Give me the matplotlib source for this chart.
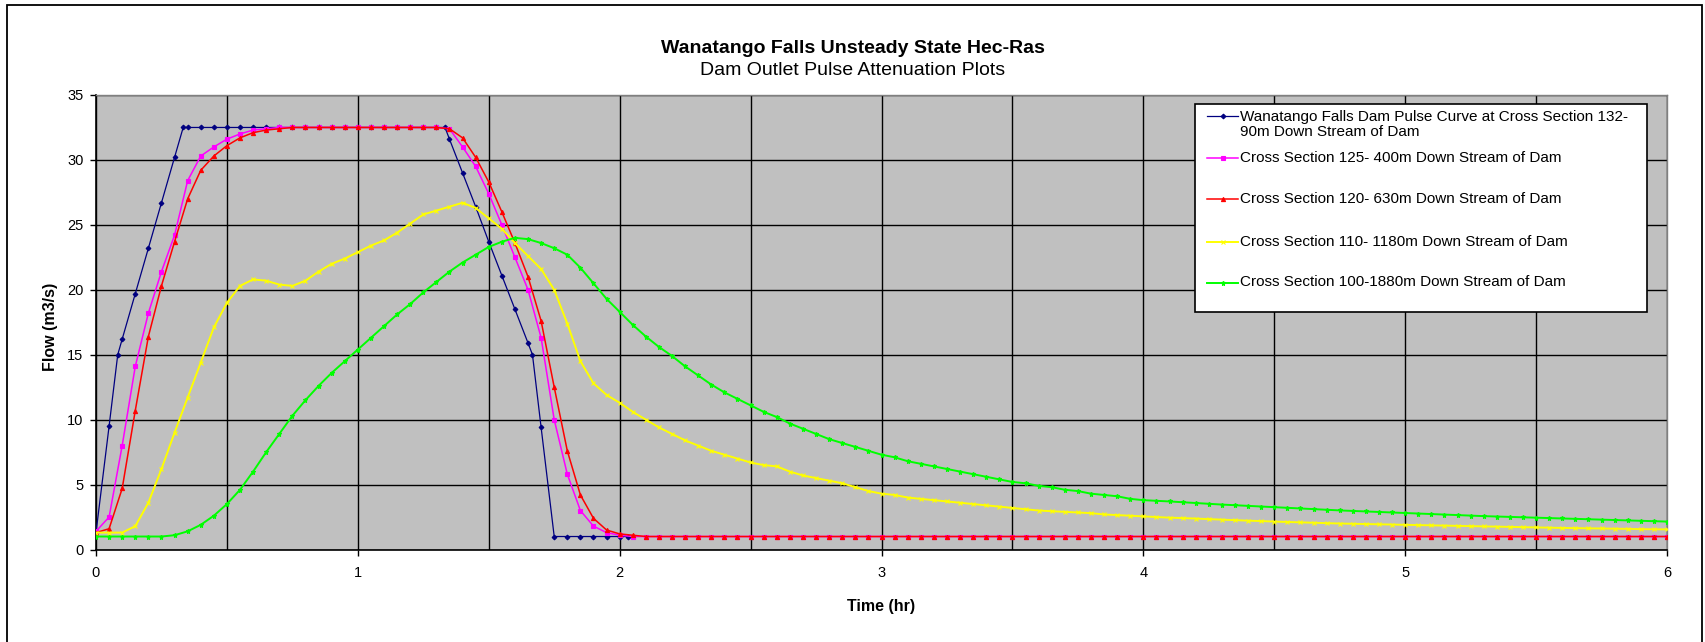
import numpy as np
import matplotlib
matplotlib.use("Agg")
import matplotlib.pyplot as plt
from matplotlib.patches import Rectangle
from matplotlib.lines import Line2D
from matplotlib.ticker import MultipleLocator

plt.rcParams['font.family'] = ['Liberation Sans', 'DejaVu Sans']

# --- data (time in hr, flow in m3/s) ---
# common time grid, one reading every 0.05 hr
t = np.round(np.arange(0, 121) * 0.05, 2)

# upstream pulse has its own kinks, so its own time list
t_blue = [0.0, 0.05, 0.083, 0.1, 0.15, 0.2, 0.25, 0.3, 0.333, 0.35,
          0.4, 0.45, 0.5, 0.55, 0.6, 0.65, 0.7, 0.75, 0.8, 0.85,
          0.9, 0.95, 1.0, 1.05, 1.1, 1.15, 1.2, 1.25, 1.3, 1.333,
          1.35, 1.4, 1.45, 1.5, 1.55, 1.6, 1.65, 1.667, 1.7, 1.75,
          1.8, 1.85, 1.9, 1.95, 2.0, 2.033]
q_blue = [1.3, 9.5, 15.0, 16.2, 19.7, 23.2, 26.7, 30.2, 32.5, 32.5,
          32.5, 32.5, 32.5, 32.5, 32.5, 32.5, 32.5, 32.5, 32.5, 32.5,
          32.5, 32.5, 32.5, 32.5, 32.5, 32.5, 32.5, 32.5, 32.5, 32.5,
          31.6, 29.0, 26.4, 23.7, 21.1, 18.5, 15.9, 15.0, 9.4, 1.0,
          1.0, 1.0, 1.0, 1.0, 1.0, 1.0]

q_magenta = [1.4, 2.5, 8.0, 14.1, 18.2, 21.4, 24.2, 28.4, 30.3, 31.0,
             31.6, 32.0, 32.3, 32.4, 32.5, 32.5, 32.5, 32.5, 32.5, 32.5,
             32.5, 32.5, 32.5, 32.5, 32.5, 32.5, 32.5, 32.4, 31.0, 29.5,
             27.4, 25.0, 22.5, 20.0, 16.3, 10.0, 5.8, 3.0, 1.8, 1.3,
             1.1, 1.0, 1.0, 1.0, 1.0, 1.0, 1.0, 1.0, 1.0, 1.0,
             1.0, 1.0, 1.0, 1.0, 1.0, 1.0, 1.0, 1.0, 1.0, 1.0,
             1.0, 1.0, 1.0, 1.0, 1.0, 1.0, 1.0, 1.0, 1.0, 1.0,
             1.0, 1.0, 1.0, 1.0, 1.0, 1.0, 1.0, 1.0, 1.0, 1.0,
             1.0, 1.0, 1.0, 1.0, 1.0, 1.0, 1.0, 1.0, 1.0, 1.0,
             1.0, 1.0, 1.0, 1.0, 1.0, 1.0, 1.0, 1.0, 1.0, 1.0,
             1.0, 1.0, 1.0, 1.0, 1.0, 1.0, 1.0, 1.0, 1.0, 1.0,
             1.0, 1.0, 1.0, 1.0, 1.0, 1.0, 1.0, 1.0, 1.0, 1.0,
             1.0]

q_red = [1.3, 1.6, 4.7, 10.7, 16.4, 20.3, 23.7, 27.0, 29.2, 30.3,
         31.1, 31.7, 32.1, 32.3, 32.4, 32.5, 32.5, 32.5, 32.5, 32.5,
         32.5, 32.5, 32.5, 32.5, 32.5, 32.5, 32.5, 32.4, 31.7, 30.2,
         28.3, 26.0, 23.6, 21.0, 17.6, 12.5, 7.6, 4.2, 2.4, 1.5,
         1.2, 1.1, 1.0, 1.0, 1.0, 1.0, 1.0, 1.0, 1.0, 1.0,
         1.0, 1.0, 1.0, 1.0, 1.0, 1.0, 1.0, 1.0, 1.0, 1.0,
         1.0, 1.0, 1.0, 1.0, 1.0, 1.0, 1.0, 1.0, 1.0, 1.0,
         1.0, 1.0, 1.0, 1.0, 1.0, 1.0, 1.0, 1.0, 1.0, 1.0,
         1.0, 1.0, 1.0, 1.0, 1.0, 1.0, 1.0, 1.0, 1.0, 1.0,
         1.0, 1.0, 1.0, 1.0, 1.0, 1.0, 1.0, 1.0, 1.0, 1.0,
         1.0, 1.0, 1.0, 1.0, 1.0, 1.0, 1.0, 1.0, 1.0, 1.0,
         1.0, 1.0, 1.0, 1.0, 1.0, 1.0, 1.0, 1.0, 1.0, 1.0,
         1.0]

q_yellow = [1.3, 1.3, 1.3, 1.8, 3.6, 6.2, 9.0, 11.7, 14.4, 17.1,
            19.0, 20.3, 20.8, 20.7, 20.4, 20.3, 20.7, 21.4, 22.0, 22.4,
            22.9, 23.4, 23.8, 24.4, 25.1, 25.8, 26.1, 26.4, 26.7, 26.3,
            25.5, 24.7, 23.6, 22.6, 21.6, 20.0, 17.4, 14.5, 12.8, 11.9,
            11.3, 10.6, 10.0, 9.4, 8.9, 8.4, 8.0, 7.6, 7.3, 7.0,
            6.7, 6.5, 6.4, 6.0, 5.7, 5.5, 5.3, 5.1, 4.8, 4.5,
            4.3, 4.2, 4.0, 3.9, 3.8, 3.7, 3.6, 3.5, 3.4, 3.3,
            3.2, 3.1, 3.0, 2.95, 2.9, 2.85, 2.8, 2.7, 2.65, 2.6,
            2.55, 2.5, 2.45, 2.42, 2.38, 2.34, 2.3, 2.26, 2.22, 2.19,
            2.15, 2.12, 2.09, 2.06, 2.03, 2.0, 1.98, 1.96, 1.94, 1.92,
            1.9, 1.88, 1.86, 1.84, 1.82, 1.8, 1.78, 1.76, 1.74, 1.72,
            1.7, 1.68, 1.66, 1.65, 1.63, 1.62, 1.6, 1.59, 1.57, 1.56,
            1.55]

q_green = [1.0, 1.0, 1.0, 1.0, 1.0, 1.0, 1.1, 1.4, 1.9, 2.6,
           3.5, 4.6, 6.0, 7.5, 8.9, 10.3, 11.5, 12.6, 13.6, 14.5,
           15.4, 16.3, 17.2, 18.1, 18.9, 19.8, 20.6, 21.4, 22.1, 22.7,
           23.3, 23.7, 24.0, 23.9, 23.6, 23.2, 22.7, 21.7, 20.5, 19.3,
           18.3, 17.3, 16.4, 15.6, 14.9, 14.1, 13.4, 12.7, 12.1, 11.6,
           11.1, 10.6, 10.2, 9.7, 9.3, 8.9, 8.5, 8.2, 7.9, 7.6,
           7.3, 7.1, 6.8, 6.6, 6.4, 6.2, 6.0, 5.8, 5.6, 5.4,
           5.2, 5.1, 4.9, 4.8, 4.6, 4.5, 4.3, 4.2, 4.1, 3.9,
           3.8, 3.75, 3.7, 3.64, 3.58, 3.52, 3.46, 3.41, 3.36, 3.31,
           3.26, 3.21, 3.16, 3.11, 3.06, 3.01, 2.97, 2.93, 2.89, 2.85,
           2.81, 2.77, 2.73, 2.69, 2.65, 2.61, 2.57, 2.54, 2.51, 2.48,
           2.45, 2.42, 2.39, 2.36, 2.33, 2.3, 2.27, 2.24, 2.21, 2.18,
           2.15]

labels = ["Wanatango Falls Dam Pulse Curve at Cross Section 132-\n90m Down Stream of Dam",
          "Cross Section 125- 400m Down Stream of Dam",
          "Cross Section 120- 630m Down Stream of Dam",
          "Cross Section 110- 1180m Down Stream of Dam",
          "Cross Section 100-1880m Down Stream of Dam"]
colors = ['#000080', '#FF00FF', '#FF0000', '#FFFF00', '#00FF00']
markers = ['D', 's', '^', 'x', '*']
msizes = [2.4, 3.0, 3.0, 3.0, 3.6]
widths = [0.9, 1.1, 1.1, 1.4, 1.4]

# --- layout in pixels of the 1705x642 picture ---
W, H = 1705, 642
def fx(px):
    return px / W
def fy(py):
    return 1 - py / H

fig = plt.figure(figsize=(W / 100, H / 100), dpi=100)
fig.patch.set_facecolor('white')

ax = fig.add_axes([fx(96), fy(549.5), fx(1667) - fx(96), fy(95) - fy(549.5)])
ax.set_facecolor('#C0C0C0')

xs = [t_blue, t, t, t, t]
ys = [q_blue, q_magenta, q_red, q_yellow, q_green]
for i in range(5):
    ax.plot(xs[i], ys[i], color=colors[i], lw=widths[i], marker=markers[i],
            ms=msizes[i], mew=0.8, mec=colors[i], mfc=colors[i], zorder=3 + i)

ax.set_xlim(0, 6)
ax.set_ylim(0, 35)
ax.xaxis.set_major_locator(MultipleLocator(1))
ax.xaxis.set_minor_locator(MultipleLocator(0.5))
ax.yaxis.set_major_locator(MultipleLocator(5))
ax.grid(True, which='major', color='black', lw=1.0)
ax.xaxis.grid(True, which='minor', color='black', lw=1.0)
ax.set_axisbelow(True)
ax.tick_params(which='major', direction='out', length=4, width=1, labelsize=10.5, colors='black')
ax.tick_params(axis='x', pad=8)
ax.tick_params(axis='y', pad=5)
ax.tick_params(which='minor', length=0)

for s in ['top', 'right']:
    ax.spines[s].set_color('#808080')
    ax.spines[s].set_linewidth(1.0)
for s in ['left', 'bottom']:
    ax.spines[s].set_color('black')
    ax.spines[s].set_linewidth(1.2)

ax.set_xlabel("Time (hr)", fontsize=11.5, fontweight='bold')
ax.set_ylabel("Flow (m3/s)", fontsize=11.5, fontweight='bold')
ax.xaxis.set_label_coords(0.5, -0.108)
ax.yaxis.set_label_coords(-0.024, 0.49)

fig.text(0.5, fy(48.5), "Wanatango Falls Unsteady State Hec-Ras", ha='center', va='center',
         fontsize=14, fontweight='bold')
fig.text(0.5, fy(70.5), "Dam Outlet Pulse Attenuation Plots", ha='center', va='center', fontsize=14)

# legend box drawn by hand to keep Excel's spacing
fig.add_artist(Rectangle((fx(1195), fy(312)), fx(1647) - fx(1195), fy(104) - fy(312),
                         transform=fig.transFigure, facecolor='white', edgecolor='black',
                         lw=1.2, zorder=10))
entry_y = [116, 158, 199, 241.5, 282.5]
for i in range(5):
    fig.add_artist(Line2D([fx(1207), fx(1238)], [fy(entry_y[i]), fy(entry_y[i])],
                          transform=fig.transFigure, color=colors[i], lw=widths[i],
                          zorder=11))
    fig.add_artist(Line2D([fx(1222.5)], [fy(entry_y[i])], transform=fig.transFigure,
                          color=colors[i], marker=markers[i], ms=msizes[i], mew=0.8,
                          zorder=12))
    ty = entry_y[i] + 8.5 if i == 0 else entry_y[i]
    fig.text(fx(1240), fy(ty), labels[i], ha='left', va='center', fontsize=11,
             linespacing=1.15, zorder=12)

# outer border of the chart area
fig.add_artist(Rectangle((fx(7), fy(700)), fx(1702) - fx(7), fy(5) - fy(700),
                         transform=fig.transFigure, fill=False, edgecolor='black', lw=1.3))

fig.savefig("out.png", dpi=100)
